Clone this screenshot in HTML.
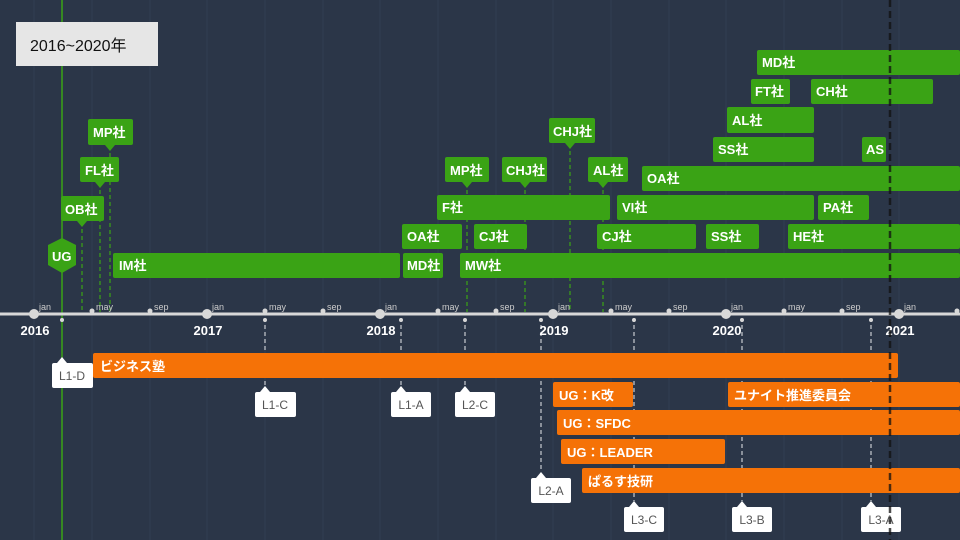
<!DOCTYPE html>
<html><head><meta charset="utf-8"><style>
html,body{margin:0;padding:0;background:#2b3648;}
svg{display:block}
text{font-family:"Liberation Sans","Noto Sans CJK JP",sans-serif;}
.g{fill:#3aa315}
.o{fill:#f57207}
.gt{fill:#fff;font-size:13px;font-weight:bold}
.ot{fill:#fff;font-size:13px;font-weight:bold}
.lt{fill:#555;font-size:12px}
.mt{fill:#ccc;font-size:9px}
.yt{fill:#fff;font-size:13px;font-weight:bold}
</style></head><body>
<svg width="960" height="540" viewBox="0 0 960 540" xmlns="http://www.w3.org/2000/svg">
<rect width="960" height="540" fill="#2b3648"/>
<g stroke="#313e52" stroke-width="1">
<line x1="34" y1="0" x2="34" y2="540"/><line x1="92" y1="0" x2="92" y2="540"/><line x1="150" y1="0" x2="150" y2="540"/>
<line x1="207" y1="0" x2="207" y2="540"/><line x1="265" y1="0" x2="265" y2="540"/><line x1="323" y1="0" x2="323" y2="540"/>
<line x1="380" y1="0" x2="380" y2="540"/><line x1="438" y1="0" x2="438" y2="540"/><line x1="496" y1="0" x2="496" y2="540"/>
<line x1="553" y1="0" x2="553" y2="540"/><line x1="611" y1="0" x2="611" y2="540"/><line x1="669" y1="0" x2="669" y2="540"/>
<line x1="726" y1="0" x2="726" y2="540"/><line x1="784" y1="0" x2="784" y2="540"/><line x1="842" y1="0" x2="842" y2="540"/>
<line x1="899" y1="0" x2="899" y2="540"/>
</g>
<g stroke="#3aa315" stroke-width="1.2" stroke-dasharray="4,3">
<line x1="82" y1="222" x2="82" y2="312"/><line x1="100" y1="183" x2="100" y2="312"/><line x1="110" y1="146" x2="110" y2="312"/>
<line x1="467" y1="183" x2="467" y2="312"/><line x1="525" y1="183" x2="525" y2="312"/><line x1="570" y1="144" x2="570" y2="312"/><line x1="603" y1="183" x2="603" y2="312"/>
</g>
<line x1="62" y1="0" x2="62" y2="540" stroke="#3aa315" stroke-width="1.5"/>
<g class="g">
<rect x="113" y="253" width="287" height="25" rx="2"/><rect x="403" y="253" width="40" height="25" rx="2"/><rect x="460" y="253" width="500" height="25" rx="2"/>
<rect x="402" y="224" width="60" height="25" rx="2"/><rect x="474" y="224" width="53" height="25" rx="2"/><rect x="597" y="224" width="99" height="25" rx="2"/><rect x="706" y="224" width="53" height="25" rx="2"/><rect x="788" y="224" width="172" height="25" rx="2"/>
<rect x="437" y="195" width="173" height="25" rx="2"/><rect x="617" y="195" width="197" height="25" rx="2"/><rect x="818" y="195" width="51" height="25" rx="2"/>
<rect x="642" y="166" width="318" height="25" rx="2"/>
<rect x="713" y="137" width="101" height="25" rx="2"/><rect x="862" y="137" width="24" height="25" rx="2"/>
<rect x="727" y="107" width="87" height="26" rx="2"/>
<rect x="751" y="79" width="39" height="25" rx="2"/><rect x="811" y="79" width="122" height="25" rx="2"/>
<rect x="757" y="50" width="203" height="25" rx="2"/>
</g>
<g class="gt">
<text x="119" y="270">IM社</text><text x="407" y="270">MD社</text><text x="465" y="270">MW社</text>
<text x="407" y="241">OA社</text><text x="479" y="241">CJ社</text><text x="602" y="241">CJ社</text><text x="711" y="241">SS社</text><text x="793" y="241">HE社</text>
<text x="442" y="212">F社</text><text x="622" y="212">VI社</text><text x="823" y="212">PA社</text>
<text x="647" y="183">OA社</text>
<text x="718" y="154">SS社</text><text x="866" y="154">AS</text>
<text x="732" y="125">AL社</text>
<text x="755" y="96">FT社</text><text x="816" y="96">CH社</text>
<text x="762" y="67">MD社</text>
</g>
<g class="g">
<polygon points="62,238 76,245 76,265 62,273 48,265 48,245"/>
<rect x="61" y="196" width="43" height="25" rx="2"/><polygon points="77,221 87,221 82,227"/>
<rect x="80" y="157" width="39" height="25" rx="2"/><polygon points="95,182 105,182 100,188"/>
<rect x="88" y="119" width="45" height="26" rx="2"/><polygon points="105,145 115,145 110,151"/>
<rect x="445" y="157" width="44" height="25" rx="2"/><polygon points="462,182 472,182 467,188"/>
<rect x="502" y="157" width="45" height="25" rx="2"/><polygon points="520,182 530,182 525,188"/>
<rect x="588" y="157" width="40" height="25" rx="2"/><polygon points="598,182 608,182 603,188"/>
<rect x="549" y="118" width="46" height="25" rx="2"/><polygon points="565,143 575,143 570,149"/>
</g>
<g class="gt">
<text x="52" y="261">UG</text><text x="65" y="214">OB社</text><text x="85" y="175">FL社</text><text x="93" y="137">MP社</text>
<text x="450" y="175">MP社</text><text x="506" y="175">CHJ社</text><text x="593" y="175">AL社</text><text x="553" y="136">CHJ社</text>
</g>
<g stroke="#c8ccd2" stroke-width="1.2" stroke-dasharray="4,3">
<line x1="265" y1="318" x2="265" y2="386"/><line x1="401" y1="318" x2="401" y2="386"/><line x1="465" y1="318" x2="465" y2="386"/>
<line x1="541" y1="318" x2="541" y2="472"/><line x1="634" y1="318" x2="634" y2="501"/><line x1="742" y1="318" x2="742" y2="501"/><line x1="871" y1="318" x2="871" y2="501"/>
</g>
<line x1="0" y1="314" x2="960" y2="314" stroke="#d8d8d8" stroke-width="3"/>
<g fill="#d8d8d8">
<circle cx="34" cy="314" r="5"/><circle cx="207" cy="314" r="5"/><circle cx="380" cy="314" r="5"/><circle cx="553" cy="314" r="5"/><circle cx="726" cy="314" r="5"/><circle cx="899" cy="314" r="5"/>
<circle cx="92" cy="311" r="2.5"/><circle cx="150" cy="311" r="2.5"/><circle cx="265" cy="311" r="2.5"/><circle cx="323" cy="311" r="2.5"/>
<circle cx="438" cy="311" r="2.5"/><circle cx="496" cy="311" r="2.5"/><circle cx="611" cy="311" r="2.5"/><circle cx="669" cy="311" r="2.5"/>
<circle cx="784" cy="311" r="2.5"/><circle cx="842" cy="311" r="2.5"/><circle cx="957" cy="311" r="2.5"/>
<circle cx="62" cy="320" r="2"/><circle cx="265" cy="320" r="2"/><circle cx="401" cy="320" r="2"/><circle cx="465" cy="320" r="2"/><circle cx="541" cy="320" r="2"/><circle cx="634" cy="320" r="2"/><circle cx="742" cy="320" r="2"/><circle cx="871" cy="320" r="2"/>
</g>
<g class="mt">
<text x="39" y="310">jan</text><text x="96" y="310">may</text><text x="154" y="310">sep</text>
<text x="212" y="310">jan</text><text x="269" y="310">may</text><text x="327" y="310">sep</text>
<text x="385" y="310">jan</text><text x="442" y="310">may</text><text x="500" y="310">sep</text>
<text x="558" y="310">jan</text><text x="615" y="310">may</text><text x="673" y="310">sep</text>
<text x="731" y="310">jan</text><text x="788" y="310">may</text><text x="846" y="310">sep</text>
<text x="904" y="310">jan</text>
</g>
<g class="yt" text-anchor="middle">
<text x="35" y="335">2016</text><text x="208" y="335">2017</text><text x="381" y="335">2018</text><text x="554" y="335">2019</text><text x="727" y="335">2020</text><text x="900" y="335">2021</text>
</g>
<g class="o">
<rect x="93" y="353" width="805" height="25" rx="2"/>
<rect x="553" y="382" width="80" height="25" rx="2"/><rect x="728" y="382" width="232" height="25" rx="2"/>
<rect x="557" y="410" width="403" height="25" rx="2"/>
<rect x="561" y="439" width="164" height="25" rx="2"/>
<rect x="582" y="468" width="378" height="25" rx="2"/>
</g>
<g class="ot">
<text x="100" y="371">ビジネス塾</text>
<text x="559" y="400">UG：K改</text><text x="734" y="400">ユナイト推進委員会</text>
<text x="563" y="428">UG：SFDC</text>
<text x="567" y="457">UG：LEADER</text>
<text x="588" y="486">ぱるす技研</text>
</g>
<g fill="#fff">
<rect x="52" y="363" width="41" height="25" rx="2"/><polygon points="57,363 67,363 62,357"/>
<rect x="255" y="392" width="41" height="25" rx="2"/><polygon points="260,392 270,392 265,386"/>
<rect x="391" y="392" width="40" height="25" rx="2"/><polygon points="396,392 406,392 401,386"/>
<rect x="455" y="392" width="40" height="25" rx="2"/><polygon points="460,392 470,392 465,386"/>
<rect x="531" y="478" width="40" height="25" rx="2"/><polygon points="536,478 546,478 541,472"/>
<rect x="624" y="507" width="40" height="25" rx="2"/><polygon points="629,507 639,507 634,501"/>
<rect x="732" y="507" width="40" height="25" rx="2"/><polygon points="737,507 747,507 742,501"/>
<rect x="861" y="507" width="40" height="25" rx="2"/><polygon points="866,507 876,507 871,501"/>
</g>
<g class="lt" text-anchor="middle">
<text x="72" y="380">L1-D</text><text x="275" y="409">L1-C</text><text x="411" y="409">L1-A</text><text x="475" y="409">L2-C</text>
<text x="551" y="495">L2-A</text><text x="644" y="524">L3-C</text><text x="752" y="524">L3-B</text><text x="881" y="524">L3-A</text>
</g>
<line x1="890" y1="0" x2="890" y2="540" stroke="#111" stroke-width="2.5" stroke-dasharray="7,4" opacity="0.75"/>
<rect x="16" y="22" width="142" height="44" fill="#e6e6e6"/>
<text x="30" y="51" font-size="16" fill="#111">2016~2020年</text>
</svg>
</body></html>
